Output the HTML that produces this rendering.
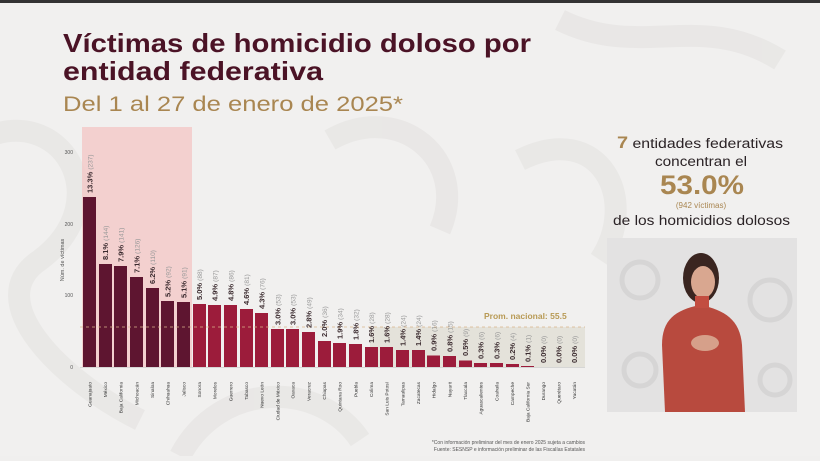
<!DOCTYPE html>
<html><head><meta charset="utf-8"><style>
body{margin:0;width:820px;height:456px;overflow:hidden;background:#f0efee;font-family:"Liberation Sans",sans-serif}
</style></head><body>
<svg width="820" height="456" viewBox="0 0 820 456" xmlns="http://www.w3.org/2000/svg" font-family="Liberation Sans, sans-serif">
<rect width="820" height="456" fill="#f1f0ef"/>
<g fill="none" stroke="#e6e4e3" stroke-width="22" opacity="0.7">
<path d="M-20 140 C60 100 120 200 40 260 C-20 300 60 380 140 420"/>
<path d="M180 456 C220 380 320 380 360 440"/>
<path d="M520 160 C600 120 640 200 600 260"/>
<path d="M560 20 C640 60 700 10 780 60"/>
<path d="M330 140 C400 100 470 160 440 230"/>
</g>
<rect x="0" y="0" width="820" height="3" fill="#333"/>
<text x="63" y="52" font-size="26" font-weight="bold" fill="#4b1326" textLength="468" lengthAdjust="spacingAndGlyphs">Víctimas de homicidio doloso por</text>
<text x="63" y="80" font-size="26" font-weight="bold" fill="#4b1326" textLength="260" lengthAdjust="spacingAndGlyphs">entidad federativa</text>
<text x="63" y="111" font-size="21" fill="#a98651" textLength="340" lengthAdjust="spacingAndGlyphs">Del 1 al 27 de enero de 2025*</text>

<rect x="82" y="127" width="110" height="240" fill="#f3c6c4" opacity="0.75"/>
<rect x="370" y="327" width="215" height="40" fill="#e4e2da"/>

<g font-size="5" fill="#555" text-anchor="end">
<text x="73" y="154">300</text><text x="73" y="226">200</text><text x="73" y="297">100</text><text x="73" y="369">0</text>
</g>
<text transform="translate(64 260) rotate(-90)" font-size="5.5" fill="#555" text-anchor="middle">Núm. de víctimas</text>
<line x1="80" y1="367.5" x2="585" y2="367.5" stroke="#bbb" stroke-width="0.6"/>

<g fill="#5e1530">
<rect x="83" y="197" width="13" height="170"/>
<rect x="99" y="264" width="13" height="103"/>
<rect x="114" y="266" width="13" height="101"/>
<rect x="130" y="277" width="13" height="90"/>
<rect x="146" y="288" width="13" height="79"/>
<rect x="161" y="301" width="13" height="66"/>
<rect x="177" y="302" width="13" height="65"/>
</g>
<g fill="#9c1c3b">
<rect x="193" y="304" width="13" height="63"/>
<rect x="208" y="305" width="13" height="62"/>
<rect x="224" y="305" width="13" height="62"/>
<rect x="240" y="309" width="13" height="58"/>
<rect x="255" y="313" width="13" height="54"/>
<rect x="271" y="329" width="13" height="38"/>
<rect x="286" y="329" width="13" height="38"/>
<rect x="302" y="332" width="13" height="35"/>
<rect x="318" y="341" width="13" height="26"/>
<rect x="333" y="343" width="13" height="24"/>
<rect x="349" y="344" width="13" height="23"/>
<rect x="365" y="347" width="13" height="20"/>
<rect x="380" y="347" width="13" height="20"/>
<rect x="396" y="350" width="13" height="17"/>
<rect x="412" y="350" width="13" height="17"/>
<rect x="427" y="355.5" width="13" height="11.5"/>
<rect x="443" y="356" width="13" height="11"/>
<rect x="459" y="360.5" width="13" height="6.5"/>
<rect x="474" y="363" width="13" height="4"/>
<rect x="490" y="363" width="13" height="4"/>
<rect x="506" y="364" width="13" height="3"/>
<rect x="521" y="366" width="13" height="1"/>
</g>
<line x1="80" y1="327" x2="585" y2="327" stroke="#d9b48a" stroke-width="0.8" stroke-dasharray="3,3"/>
<text x="484" y="319" font-size="8.5" font-weight="bold" fill="#b89a55">Prom. nacional: 55.5</text>

<g font-size="7.5" font-weight="bold" fill="#3a2a2e">
<text transform="translate(92.5 193) rotate(-90)">13.3% <tspan fill="#999" font-weight="normal" font-size="6.5">(237)</tspan></text>
<text transform="translate(108 260) rotate(-90)">8.1% <tspan fill="#999" font-weight="normal" font-size="6.5">(144)</tspan></text>
<text transform="translate(123.5 262) rotate(-90)">7.9% <tspan fill="#999" font-weight="normal" font-size="6.5">(141)</tspan></text>
<text transform="translate(139.5 273) rotate(-90)">7.1% <tspan fill="#999" font-weight="normal" font-size="6.5">(126)</tspan></text>
<text transform="translate(155 284) rotate(-90)">6.2% <tspan fill="#999" font-weight="normal" font-size="6.5">(110)</tspan></text>
<text transform="translate(170.5 297) rotate(-90)">5.2% <tspan fill="#999" font-weight="normal" font-size="6.5">(92)</tspan></text>
<text transform="translate(186.5 298) rotate(-90)">5.1% <tspan fill="#999" font-weight="normal" font-size="6.5">(91)</tspan></text>
<text transform="translate(202 300) rotate(-90)">5.0% <tspan fill="#999" font-weight="normal" font-size="6.5">(88)</tspan></text>
<text transform="translate(217.5 301) rotate(-90)">4.9% <tspan fill="#999" font-weight="normal" font-size="6.5">(87)</tspan></text>
<text transform="translate(233.5 301) rotate(-90)">4.8% <tspan fill="#999" font-weight="normal" font-size="6.5">(86)</tspan></text>
<text transform="translate(249 305) rotate(-90)">4.6% <tspan fill="#999" font-weight="normal" font-size="6.5">(81)</tspan></text>
<text transform="translate(264.5 309) rotate(-90)">4.3% <tspan fill="#999" font-weight="normal" font-size="6.5">(76)</tspan></text>
<text transform="translate(280.5 325) rotate(-90)">3.0% <tspan fill="#999" font-weight="normal" font-size="6.5">(53)</tspan></text>
<text transform="translate(295.5 325) rotate(-90)">3.0% <tspan fill="#999" font-weight="normal" font-size="6.5">(53)</tspan></text>
<text transform="translate(311.5 328) rotate(-90)">2.8% <tspan fill="#999" font-weight="normal" font-size="6.5">(49)</tspan></text>
<text transform="translate(327 337) rotate(-90)">2.0% <tspan fill="#999" font-weight="normal" font-size="6.5">(36)</tspan></text>
<text transform="translate(342.5 339) rotate(-90)">1.9% <tspan fill="#999" font-weight="normal" font-size="6.5">(34)</tspan></text>
<text transform="translate(358.5 340) rotate(-90)">1.8% <tspan fill="#999" font-weight="normal" font-size="6.5">(32)</tspan></text>
<text transform="translate(374 343) rotate(-90)">1.6% <tspan fill="#999" font-weight="normal" font-size="6.5">(28)</tspan></text>
<text transform="translate(389.5 343) rotate(-90)">1.6% <tspan fill="#999" font-weight="normal" font-size="6.5">(28)</tspan></text>
<text transform="translate(405.5 346) rotate(-90)">1.4% <tspan fill="#999" font-weight="normal" font-size="6.5">(24)</tspan></text>
<text transform="translate(421 346) rotate(-90)">1.4% <tspan fill="#999" font-weight="normal" font-size="6.5">(24)</tspan></text>
<text transform="translate(436.5 351) rotate(-90)">0.9% <tspan fill="#999" font-weight="normal" font-size="6.5">(16)</tspan></text>
<text transform="translate(452.5 352) rotate(-90)">0.8% <tspan fill="#999" font-weight="normal" font-size="6.5">(15)</tspan></text>
<text transform="translate(468 356) rotate(-90)">0.5% <tspan fill="#999" font-weight="normal" font-size="6.5">(9)</tspan></text>
<text transform="translate(483.5 359) rotate(-90)">0.3% <tspan fill="#999" font-weight="normal" font-size="6.5">(6)</tspan></text>
<text transform="translate(499.5 359) rotate(-90)">0.3% <tspan fill="#999" font-weight="normal" font-size="6.5">(6)</tspan></text>
<text transform="translate(515 360) rotate(-90)">0.2% <tspan fill="#999" font-weight="normal" font-size="6.5">(4)</tspan></text>
<text transform="translate(530.5 362) rotate(-90)">0.1% <tspan fill="#999" font-weight="normal" font-size="6.5">(1)</tspan></text>
<text transform="translate(546 363) rotate(-90)">0.0% <tspan fill="#999" font-weight="normal" font-size="6.5">(0)</tspan></text>
<text transform="translate(561.5 363) rotate(-90)">0.0% <tspan fill="#999" font-weight="normal" font-size="6.5">(0)</tspan></text>
<text transform="translate(577 363) rotate(-90)">0.0% <tspan fill="#999" font-weight="normal" font-size="6.5">(0)</tspan></text>
</g>

<g font-size="4.8" fill="#333" text-anchor="end">
<text transform="translate(91.5 382) rotate(-90)">Guanajuato</text>
<text transform="translate(107 382) rotate(-90)">México</text>
<text transform="translate(122.5 382) rotate(-90)">Baja California</text>
<text transform="translate(138.5 382) rotate(-90)">Michoacán</text>
<text transform="translate(154 382) rotate(-90)">Sinaloa</text>
<text transform="translate(169.5 382) rotate(-90)">Chihuahua</text>
<text transform="translate(185.5 382) rotate(-90)">Jalisco</text>
<text transform="translate(201 382) rotate(-90)">Sonora</text>
<text transform="translate(216.5 382) rotate(-90)">Morelos</text>
<text transform="translate(232.5 382) rotate(-90)">Guerrero</text>
<text transform="translate(248 382) rotate(-90)">Tabasco</text>
<text transform="translate(263.5 382) rotate(-90)">Nuevo León</text>
<text transform="translate(279.5 382) rotate(-90)">Ciudad de México</text>
<text transform="translate(294.5 382) rotate(-90)">Oaxaca</text>
<text transform="translate(310.5 382) rotate(-90)">Veracruz</text>
<text transform="translate(326 382) rotate(-90)">Chiapas</text>
<text transform="translate(341.5 382) rotate(-90)">Quintana Roo</text>
<text transform="translate(357.5 382) rotate(-90)">Puebla</text>
<text transform="translate(373 382) rotate(-90)">Colima</text>
<text transform="translate(388.5 382) rotate(-90)">San Luis Potosí</text>
<text transform="translate(404.5 382) rotate(-90)">Tamaulipas</text>
<text transform="translate(420 382) rotate(-90)">Zacatecas</text>
<text transform="translate(435.5 382) rotate(-90)">Hidalgo</text>
<text transform="translate(451.5 382) rotate(-90)">Nayarit</text>
<text transform="translate(467 382) rotate(-90)">Tlaxcala</text>
<text transform="translate(482.5 382) rotate(-90)">Aguascalientes</text>
<text transform="translate(498.5 382) rotate(-90)">Coahuila</text>
<text transform="translate(514 382) rotate(-90)">Campeche</text>
<text transform="translate(529.5 382) rotate(-90)">Baja California Sur</text>
<text transform="translate(545 382) rotate(-90)">Durango</text>
<text transform="translate(560.5 382) rotate(-90)">Querétaro</text>
<text transform="translate(576 382) rotate(-90)">Yucatán</text>
</g>
<text x="585" y="444" font-size="5" fill="#555" text-anchor="end">*Con información preliminar del mes de enero 2025 sujeta a cambios</text>
<text x="585" y="451" font-size="5" fill="#555" text-anchor="end">Fuente: SESNSP e información preliminar de las Fiscalías Estatales</text>

<g font-size="13.5" fill="#2b2326">
<text x="617" y="148" textLength="166" lengthAdjust="spacingAndGlyphs"><tspan fill="#a98651" font-weight="bold" font-size="17">7</tspan> entidades federativas</text>
<text x="655" y="166" textLength="92" lengthAdjust="spacingAndGlyphs">concentran el</text>
<text x="660" y="194" font-size="27" font-weight="bold" fill="#a98651" textLength="84" lengthAdjust="spacingAndGlyphs">53.0%</text>
<text x="701" y="208" font-size="8" fill="#a98651" text-anchor="middle">(942 víctimas)</text>
<text x="613" y="225" textLength="177" lengthAdjust="spacingAndGlyphs">de los homicidios dolosos</text>
</g>
<rect x="607" y="238" width="190" height="174" fill="#e3e2e2"/>
<g fill="none" stroke="#d6d5d5" stroke-width="5">
<circle cx="640" cy="280" r="18"/><circle cx="770" cy="300" r="20"/><circle cx="640" cy="370" r="16"/><circle cx="775" cy="380" r="15"/>
</g>
<path d="M665 412 L662 345 C662 320 675 310 700 305 C725 310 740 320 742 345 L745 412 Z" fill="#b84a3e"/>
<ellipse cx="701" cy="278" rx="18" ry="25" fill="#3a2520"/>
<ellipse cx="703" cy="282" rx="12" ry="16" fill="#d9a790"/>
<rect x="695" y="296" width="14" height="12" fill="#c24d40"/>
<ellipse cx="705" cy="343" rx="14" ry="8" fill="#d6a08a"/>
</svg>
</body></html>
